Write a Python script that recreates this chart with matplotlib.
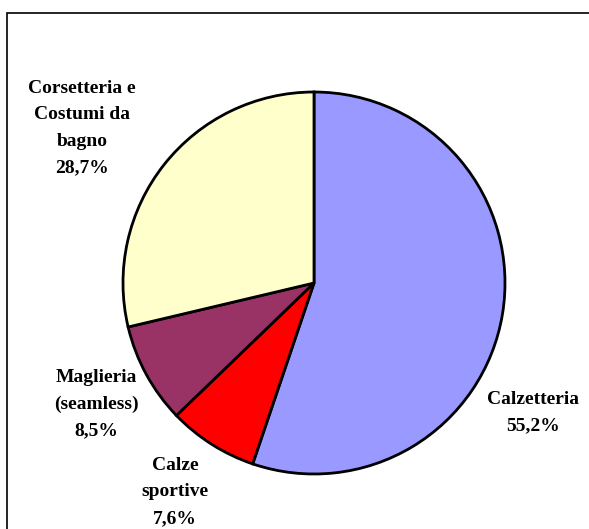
import matplotlib
matplotlib.use("Agg")
import matplotlib.pyplot as plt
from matplotlib.patches import Rectangle

# quota di fatturato per comparto
categories = ["Calzetteria", "Calze sportive", "Maglieria (seamless)", "Corsetteria e Costumi da bagno"]
shares = [55.2, 7.6, 8.5, 28.7]
label_text = ["Calzetteria\n55,2%",
              "Calze\nsportive\n7,6%",
              "Maglieria\n(seamless)\n8,5%",
              "Corsetteria e\nCostumi da\nbagno\n28,7%"]
colors = ["#9999FF", "#FF0000", "#993366", "#FFFFCC"]

W, H = 589, 529
fig = plt.figure(figsize=(W / 100, H / 100), dpi=100)
ax = fig.add_axes([0, 0, 1, 1])

# cornice del grafico (tagliata a destra e in basso)
fig.patches.append(Rectangle((7 / W, -0.05), 1.2, 1 - 13 / H + 0.05,
                             transform=fig.transFigure, fill=False,
                             edgecolor="black", linewidth=1.2))

ax.pie(shares, colors=colors, startangle=90, counterclock=False,
       center=(314, H - 283), radius=191,
       wedgeprops=dict(edgecolor="black", linewidth=2.0))

# pie() reimposta i limiti: li rimetto in pixel
ax.set_xlim(0, W)
ax.set_ylim(0, H)
ax.set_aspect("equal")
ax.axis("off")

# posizione delle etichette (pixel)
label_pos = [(533, 413), (175, 492), (96, 404), (82, 128)]
for txt, (x, y) in zip(label_text, label_pos):
    ax.text(x, H - y, txt, ha="center", va="center", fontsize=14,
            fontweight="bold", family="Liberation Serif", linespacing=1.72)

fig.savefig("out.png", dpi=100)
